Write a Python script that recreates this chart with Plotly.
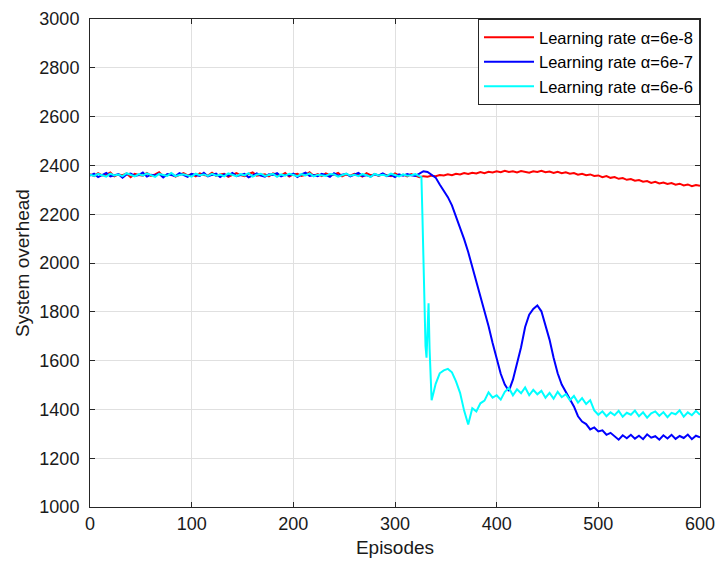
import plotly.graph_objects as go

# ---------------- data ----------------
episodes = list(range(0, 601, 4))  # red & blue share this grid

red_values = [
    2364, 2356, 2368, 2359, 2362, 2371, 2355, 2363, 2360, 2367,
    2352, 2365, 2361, 2358, 2369, 2357, 2363, 2372, 2356, 2361,
    2366, 2354, 2362, 2368, 2359, 2364, 2355, 2367, 2361, 2358,
    2370, 2357, 2363, 2366, 2353, 2362, 2368, 2360, 2356, 2365,
    2371, 2358, 2361, 2364, 2355, 2367, 2362, 2359, 2369, 2354,
    2363, 2366, 2357, 2361, 2372, 2358, 2364, 2356, 2367, 2360,
    2362, 2369, 2355, 2363, 2358, 2366, 2361, 2354, 2368, 2360,
    2363, 2357, 2365, 2360, 2356, 2367, 2359, 2362, 2355, 2364,
    2358, 2352, 2356,
    2354, 2358, 2356, 2361, 2359, 2364, 2360, 2366, 2363, 2369,
    2365, 2370, 2367, 2373, 2368, 2374, 2371, 2376, 2372, 2378,
    2373, 2376, 2371, 2377, 2374, 2370, 2376, 2373, 2378, 2372,
    2375, 2369, 2374, 2368, 2372, 2366, 2369, 2362, 2366, 2360,
    2363, 2357, 2359, 2352, 2356, 2349, 2352, 2345, 2348, 2341,
    2344, 2337, 2340, 2333, 2336, 2328, 2333, 2326, 2330, 2324,
    2328, 2321, 2325, 2318, 2322, 2315, 2320, 2316,
]

blue_values = [
    2358, 2366, 2352, 2362, 2369, 2355, 2361, 2364, 2350, 2363,
    2367, 2357, 2360, 2371, 2354, 2362, 2359, 2366, 2351, 2364,
    2361, 2356, 2368, 2359, 2353, 2365, 2362, 2357, 2370, 2355,
    2361, 2366, 2352, 2363, 2358, 2369, 2356, 2362, 2365, 2351,
    2360, 2367, 2358, 2354, 2364, 2361, 2368, 2355, 2362, 2359,
    2366, 2352, 2363, 2370, 2357, 2361, 2356, 2365, 2360, 2353,
    2368, 2358, 2362, 2366, 2355, 2361, 2369, 2357, 2360, 2354,
    2364, 2359, 2367, 2356, 2361, 2352, 2363, 2358, 2365, 2360,
    2357, 2366,
    2376, 2373, 2362, 2350, 2322, 2296, 2270, 2236, 2192, 2150,
    2098, 2045, 1985, 1930, 1872, 1812, 1742, 1672, 1604, 1546,
    1502, 1476, 1522, 1584, 1655, 1738, 1788, 1812, 1826, 1802,
    1748, 1686, 1612, 1548, 1502, 1472, 1448, 1412, 1372, 1350,
    1340, 1318, 1326, 1310, 1314, 1296, 1304, 1288, 1276, 1294,
    1282, 1296, 1280, 1292, 1278, 1298, 1284, 1290, 1276, 1294,
    1281, 1296, 1279, 1291, 1283, 1297, 1278, 1292, 1286,
]

cyan_episodes = (list(range(0, 325, 4))
                 + [326, 327, 328, 329, 330, 331, 332, 333, 334, 335, 336, 338]
                 + list(range(340, 601, 4)))

cyan_values = [
    2362, 2357, 2365, 2360, 2354, 2366, 2359, 2363, 2356, 2368,
    2361, 2355, 2364, 2358, 2367, 2360, 2353, 2365, 2362, 2357,
    2369, 2356, 2361, 2364, 2359, 2354, 2366, 2360, 2363, 2357,
    2365, 2358, 2362, 2355, 2367, 2361, 2356, 2364, 2359, 2368,
    2354, 2362, 2366, 2357, 2360, 2365, 2353, 2363, 2358, 2366,
    2361, 2356, 2364, 2359, 2367, 2355, 2362, 2360, 2357, 2365,
    2363, 2354, 2361, 2366, 2358, 2362, 2356, 2364, 2360, 2353,
    2365, 2359, 2362, 2357, 2366, 2361, 2355, 2363, 2358, 2360,
    2364, 2356,
    2352, 2190, 2010, 1830, 1660, 1612, 1700, 1835, 1650, 1520, 1438, 1470,
    1505, 1548, 1560, 1566, 1552, 1515, 1468, 1395, 1338, 1405,
    1392, 1425, 1436, 1470, 1448, 1458, 1440, 1472, 1488, 1458,
    1482, 1466, 1490, 1458, 1480, 1462, 1476, 1448, 1468, 1444,
    1472, 1450, 1462, 1438, 1455, 1428, 1446, 1422, 1438, 1396,
    1378, 1392, 1372, 1388, 1376, 1394, 1370, 1386, 1378, 1395,
    1372, 1388, 1366, 1384, 1392, 1374, 1389, 1368, 1386, 1380,
    1396, 1370, 1388, 1376, 1394, 1378,
]

series_names = ["Learning rate α=6e-8", "Learning rate α=6e-7", "Learning rate α=6e-6"]
x_ticks = [0, 100, 200, 300, 400, 500, 600]
y_ticks = list(range(1000, 3001, 200))

# ---------------- figure ----------------
fig = go.Figure()
fig.add_trace(go.Scatter(x=episodes, y=red_values, mode="lines", name=series_names[0],
                         line=dict(color="#ff0000", width=2)))
fig.add_trace(go.Scatter(x=episodes, y=blue_values, mode="lines", name=series_names[1],
                         line=dict(color="#0000ff", width=2)))
fig.add_trace(go.Scatter(x=cyan_episodes, y=cyan_values, mode="lines", name=series_names[2],
                         line=dict(color="#00ffff", width=2)))

axis_common = dict(
    showline=True, linecolor="#262626", linewidth=1, mirror="ticks",
    ticks="inside", ticklen=5, tickcolor="#262626", tickwidth=1,
    showgrid=True, gridcolor="#e0e0e0", gridwidth=1, zeroline=False,
    automargin=False, ticklabeloverflow="allow",
    tickfont=dict(family="Liberation Sans, Arial", size=18, color="#1a1a1a"),
)

fig.update_layout(
    width=715, height=561,
    margin=dict(l=90, r=15, t=19, b=54),
    paper_bgcolor="white", plot_bgcolor="white",
    font=dict(family="Liberation Sans, Arial", color="#1a1a1a"),
    xaxis=dict(range=[0, 600], tickvals=x_ticks,
               title=dict(text="Episodes", font=dict(size=19), standoff=8),
               **axis_common),
    yaxis=dict(range=[1000, 3000], tickvals=y_ticks,
               title=dict(text="System overhead", font=dict(size=19), standoff=4),
               ticklabelstandoff=6,
               **axis_common),
    legend=dict(x=1.0, xanchor="right", y=1.0, yanchor="top",
                bgcolor="white", bordercolor="#262626", borderwidth=1,
                font=dict(family="Liberation Sans, Arial", size=16.5, color="#000"),
                itemwidth=50, tracegroupgap=0),
    showlegend=True,
)

fig.write_html("out.html")
